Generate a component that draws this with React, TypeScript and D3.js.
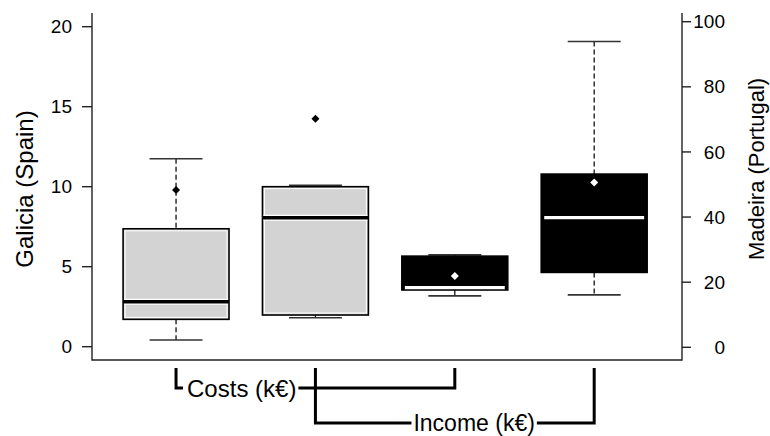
import React, { useLayoutEffect, useRef, useState } from "react";
import * as d3 from "d3";

// Box summaries, one entry per box (Galicia boxes use the left axis, Madeira the right one)
const boxLabels = ["Costs Galicia", "Income Galicia", "Costs Madeira", "Income Madeira"];
const boxAxis = ["left", "left", "right", "right"];
const whiskerLow = [0.42, 1.81, 15.8, 16.1];
const quartile1 = [1.71, 1.98, 17.6, 23.0];
const medians = [2.81, 8.06, 18.3, 39.8];
const quartile3 = [7.37, 10.0, 28.0, 53.2];
const whiskerHigh = [11.75, 10.09, 28.4, 93.9];
const markerValues = [9.79, 14.25, 21.9, 50.6];

const leftTicks = [0, 5, 10, 15, 20];
const rightTicks = [0, 20, 40, 60, 80, 100];
const leftTitle = "Galicia (Spain)";
const rightTitle = "Madeira (Portugal)";

// Group brackets below the plot: label and the (1-based) box positions they join
const groupLabels = ["Costs (k€)", "Income (k€)"];
const groupMembers = [
  [1, 3],
  [2, 4],
];

const W = 770;
const H = 436;
const plotLeft = 92;
const plotRight = 682;
const plotTop = 13;
const plotBottom = 360;
const boxWidth = 0.76;
const FONT = "'Liberation Sans', Arial, Helvetica, sans-serif";

export default function App() {
  const x = d3.scaleLinear().domain([0.397, 4.63]).range([plotLeft, plotRight]);
  const yL = d3.scaleLinear().domain([0, 20]).range([346.7, 26.7]);
  const yR = d3.scaleLinear().domain([0, 100]).range([347.3, 21.7]);
  const yOf = (i: number) => (boxAxis[i] === "left" ? yL : yR);
  const halfW = x(1 + boxWidth / 2) - x(1);

  const labelRefs = [useRef<SVGTextElement>(null), useRef<SVGTextElement>(null)];
  const [labelWidths, setLabelWidths] = useState<number[]>([109, 127]);
  useLayoutEffect(() => {
    const w = labelRefs.map((r) => (r.current ? r.current.getComputedTextLength() : 0));
    setLabelWidths(w);
  }, []);

  const diamond = (cx: number, cy: number, r: number) =>
    `M${cx},${cy - r}L${cx + r},${cy}L${cx},${cy + r}L${cx - r},${cy}Z`;

  const boxes = boxLabels.map((name, i) => {
    const y = yOf(i);
    const cx = x(i + 1);
    const dark = boxAxis[i] === "right";
    const top = y(quartile3[i]);
    const bot = y(quartile1[i]);
    return (
      <g key={name}>
        {/* whiskers */}
        <line x1={cx} x2={cx} y1={y(whiskerHigh[i])} y2={top} stroke="#111" strokeWidth={1.3} strokeDasharray="5,3" />
        <line x1={cx} x2={cx} y1={bot} y2={y(whiskerLow[i])} stroke="#111" strokeWidth={1.3} strokeDasharray="5,3" />
        <line x1={cx - halfW / 2} x2={cx + halfW / 2} y1={y(whiskerHigh[i])} y2={y(whiskerHigh[i])} stroke="#333" strokeWidth={1.6} />
        <line x1={cx - halfW / 2} x2={cx + halfW / 2} y1={y(whiskerLow[i])} y2={y(whiskerLow[i])} stroke="#333" strokeWidth={1.6} />
        {/* box */}
        <rect x={cx - halfW} y={top} width={halfW * 2} height={bot - top} fill={dark ? "#000" : "#d3d3d3"} stroke="#000" strokeWidth={1.6} />
        {!dark && (
          <rect x={cx - halfW + 2} y={top + 2} width={halfW * 2 - 4} height={bot - top - 4} fill="none" stroke="#fff" strokeWidth={1} />
        )}
        {/* median */}
        {dark ? (
          <line x1={cx - halfW + 3} x2={cx + halfW - 3} y1={y(medians[i])} y2={y(medians[i])} stroke="#fff" strokeWidth={3.2} />
        ) : (
          <>
            <line x1={cx - halfW + 1} x2={cx + halfW - 1} y1={y(medians[i])} y2={y(medians[i])} stroke="#fff" strokeWidth={6} />
            <line x1={cx - halfW} x2={cx + halfW} y1={y(medians[i])} y2={y(medians[i])} stroke="#000" strokeWidth={3.5} />
          </>
        )}
        <path d={diamond(cx, y(markerValues[i]), 4)} fill={dark ? "#fff" : "#000"} />
      </g>
    );
  });

  // brackets joining boxes of the same variable
  const bracketYs = [388, 423];
  const bracketTop = 368;
  const [costA, costB] = groupMembers[0].map((p) => x(p));
  const [incA, incB] = groupMembers[1].map((p) => x(p));
  const costTextX = costA + 11;
  const incTextX = incA + 98;

  return (
    <svg width={W} height={H} style={{ position: "absolute", left: 0, top: 0, background: "#fff" }} fontFamily={FONT}>
      <rect width={W} height={H} fill="#fff" />
      {/* frame: left, bottom, right */}
      <path d={`M${plotLeft},${plotTop}V${plotBottom}H${plotRight}V${plotTop}`} fill="none" stroke="#222" strokeWidth={1.4} />

      {leftTicks.map((t) => (
        <g key={"l" + t}>
          <line x1={plotLeft - 10} x2={plotLeft} y1={yL(t)} y2={yL(t)} stroke="#222" strokeWidth={1.4} />
          <text x={72} y={yL(t)} dy="0.35em" textAnchor="end" fontSize={19}>
            {t}
          </text>
        </g>
      ))}
      {rightTicks.map((t) => (
        <g key={"r" + t}>
          <line x1={plotRight} x2={plotRight + 9} y1={yR(t)} y2={yR(t)} stroke="#222" strokeWidth={1.4} />
          <text x={725} y={yR(t)} dy="0.35em" textAnchor="end" fontSize={19}>
            {t}
          </text>
        </g>
      ))}

      <text transform={`translate(33,189) rotate(-90)`} textAnchor="middle" fontSize={24}>
        {leftTitle}
      </text>
      <text transform={`translate(764,169) rotate(-90)`} textAnchor="middle" fontSize={22}>
        {rightTitle}
      </text>

      {boxes}

      {/* Costs bracket */}
      <path d={`M${costA},${bracketTop}V${bracketYs[0]}H${costA + 7}`} fill="none" stroke="#000" strokeWidth={3} />
      <text ref={labelRefs[0]} x={costTextX} y={bracketYs[0] + 8.6} fontSize={24}>
        {groupLabels[0]}
      </text>
      <path
        d={`M${costTextX + labelWidths[0] + 2},${bracketYs[0]}H${costB}V${bracketTop}`}
        fill="none"
        stroke="#000"
        strokeWidth={3}
      />

      {/* Income bracket */}
      <path d={`M${incA},${bracketTop}V${bracketYs[1]}H${incTextX - 2}`} fill="none" stroke="#000" strokeWidth={3} />
      <text ref={labelRefs[1]} x={incTextX} y={bracketYs[1] + 8} fontSize={23}>
        {groupLabels[1]}
      </text>
      <path
        d={`M${incTextX + labelWidths[1] + 2},${bracketYs[1]}H${incB}V${bracketTop}`}
        fill="none"
        stroke="#000"
        strokeWidth={3}
      />
    </svg>
  );
}
